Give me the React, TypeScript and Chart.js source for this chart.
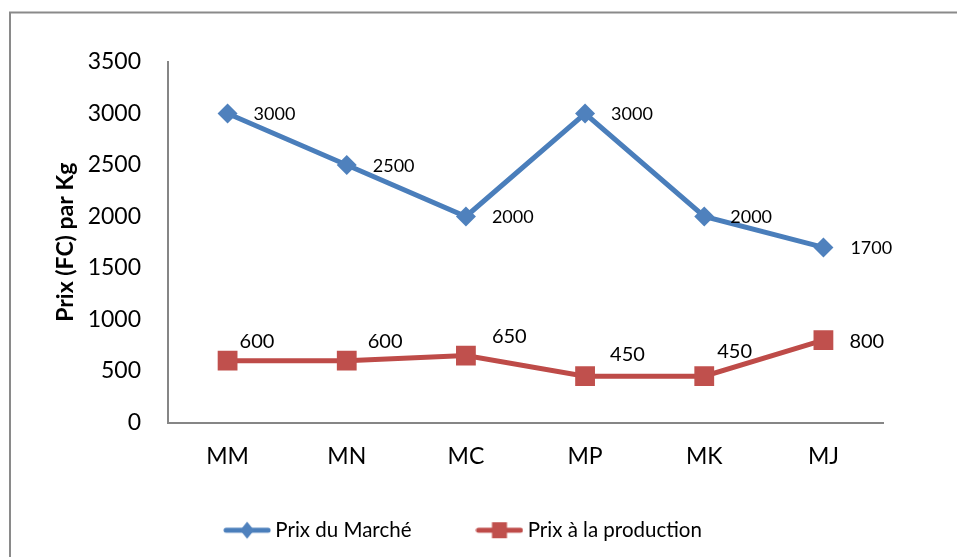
import { useEffect, useRef } from "react";
import { Chart, registerables } from "chart.js";

Chart.register(...registerables);

// ---- data ----
const categories = ["MM", "MN", "MC", "MP", "MK", "MJ"];
const prixMarche = [3000, 2500, 2000, 3000, 2000, 1700];
const prixProduction = [600, 600, 650, 450, 450, 800];
const seriesNames = ["Prix du Marché", "Prix à la production"];
const yAxisTitle = "Prix (FC) par Kg";
const yMin = 0;
const yMax = 3500;
const yStep = 500;

// ---- styles ----
const FONT = "Lato, 'Open Sans', sans-serif";
const BLUE = "#4a7ebb";
const BLUE_MARK = "#4f81bd";
const RED = "#be4b48";
const RED_MARK = "#c0504d";
const AXIS = "#868686";

// label placement per dataset (offset from point, left-aligned text)
const labelPlacement = [
  { size: 18, dx: [26, 26, 26, 26, 26, 27], dy: [1, 1, 1, 1, 1, 1] },
  { size: 20, dx: [12, 21, 26, 25, 13, 26], dy: [-19, -19, -19, -22, -25, 1] },
];

function makeIcon(line: string, mark: string, kind: "diamond" | "square") {
  const c = document.createElement("canvas");
  c.width = 48;
  c.height = 20;
  const ctx = c.getContext("2d")!;
  ctx.strokeStyle = line;
  ctx.lineWidth = 5;
  ctx.lineCap = "round";
  ctx.beginPath();
  ctx.moveTo(3, 10);
  ctx.lineTo(45, 10);
  ctx.stroke();
  ctx.fillStyle = mark;
  ctx.beginPath();
  if (kind === "diamond") {
    ctx.moveTo(24, 1.5);
    ctx.lineTo(31, 10);
    ctx.lineTo(24, 18.5);
    ctx.lineTo(17, 10);
    ctx.closePath();
  } else {
    ctx.rect(16.5, 2, 15, 16);
  }
  ctx.fill();
  return c;
}

const framePlugin = {
  id: "frame",
  beforeDraw(chart: any) {
    const ctx = chart.ctx;
    ctx.save();
    ctx.strokeStyle = "#8a8a8a";
    ctx.lineWidth = 2;
    ctx.beginPath();
    ctx.moveTo(10, chart.height + 5);
    ctx.lineTo(10, 12.5);
    ctx.lineTo(chart.width + 5, 12.5);
    ctx.stroke();
    ctx.restore();
  },
};

const labelPlugin = {
  id: "pointLabels",
  afterDatasetsDraw(chart: any) {
    const ctx = chart.ctx;
    ctx.save();
    ctx.fillStyle = "#000";
    ctx.textAlign = "left";
    ctx.textBaseline = "middle";
    chart.data.datasets.forEach((ds: any, di: number) => {
      const meta = chart.getDatasetMeta(di);
      const pl = labelPlacement[di];
      ctx.font = `${pl.size}px ${FONT}`;
      meta.data.forEach((pt: any, i: number) => {
        ctx.fillText(String(ds.data[i]), pt.x + pl.dx[i], pt.y + pl.dy[i]);
      });
    });
    ctx.restore();
  },
};

export default function App() {
  const ref = useRef<HTMLCanvasElement | null>(null);

  useEffect(() => {
    if (!ref.current) return;
    const icons = [
      makeIcon(BLUE, BLUE_MARK, "diamond"),
      makeIcon(RED, RED_MARK, "square"),
    ];
    const chart = new Chart(ref.current, {
      type: "line",
      data: {
        labels: categories,
        datasets: [
          {
            label: seriesNames[0],
            data: prixMarche,
            borderColor: BLUE,
            backgroundColor: BLUE_MARK,
            borderWidth: 5,
            pointStyle: "rectRot",
            pointRadius: 10,
            pointBorderWidth: 0,
            pointBackgroundColor: BLUE_MARK,
            tension: 0,
          },
          {
            label: seriesNames[1],
            data: prixProduction,
            borderColor: RED,
            backgroundColor: RED_MARK,
            borderWidth: 5,
            pointStyle: "rect",
            pointRadius: 14,
            pointBorderWidth: 0,
            pointBackgroundColor: RED_MARK,
            tension: 0,
          },
        ],
      },
      options: {
        responsive: false,
        animation: false,
        layout: { padding: { left: 48, right: 74, top: 62, bottom: 6.5 } },
        scales: {
          x: {
            offset: true,
            grid: { display: false, drawTicks: false },
            border: { display: true, color: AXIS, width: 2 },
            ticks: {
              color: "#000",
              font: { family: FONT, size: 23 },
              padding: 20,
              maxRotation: 0,
            },
            afterFit: (s: any) => {
              s.height = 27.5;
              s._computeLabelArea = () => undefined;
            },
          },
          y: {
            min: yMin,
            max: yMax,
            grid: { display: false, drawTicks: false },
            border: { display: true, color: AXIS, width: 2 },
            ticks: {
              stepSize: yStep,
              color: "#000",
              font: { family: FONT, size: 23 },
              padding: 27,
              callback: (v: any) => String(v),
            },
            title: {
              display: true,
              text: yAxisTitle,
              color: "#000",
              font: { family: FONT, size: 23, weight: "bold" },
              padding: { top: 4, bottom: 0 },
            },
            afterFit: (s: any) => {
              s.width = 120;
            },
          },
        },
        plugins: {
          tooltip: { enabled: false },
          legend: {
            position: "bottom",
            labels: {
              usePointStyle: true,
              pointStyleWidth: 36,
              padding: 70,
              color: "#000",
              font: { family: FONT, size: 20.5 },
              generateLabels: (c: any) =>
                c.data.datasets.map((ds: any, i: number) => ({
                  text: ds.label,
                  pointStyle: icons[i],
                  fillStyle: "transparent",
                  strokeStyle: "transparent",
                  lineWidth: 0,
                  fontColor: "#000",
                  hidden: false,
                  datasetIndex: i,
                })),
            },
          },
        },
      },
      plugins: [framePlugin, labelPlugin],
    } as any);
    return () => chart.destroy();
  }, []);

  return (
    <canvas
      ref={ref}
      width={957}
      height={557}
      style={{ position: "fixed", left: 0, top: 0, width: 957, height: 557, display: "block" }}
    />
  );
}
